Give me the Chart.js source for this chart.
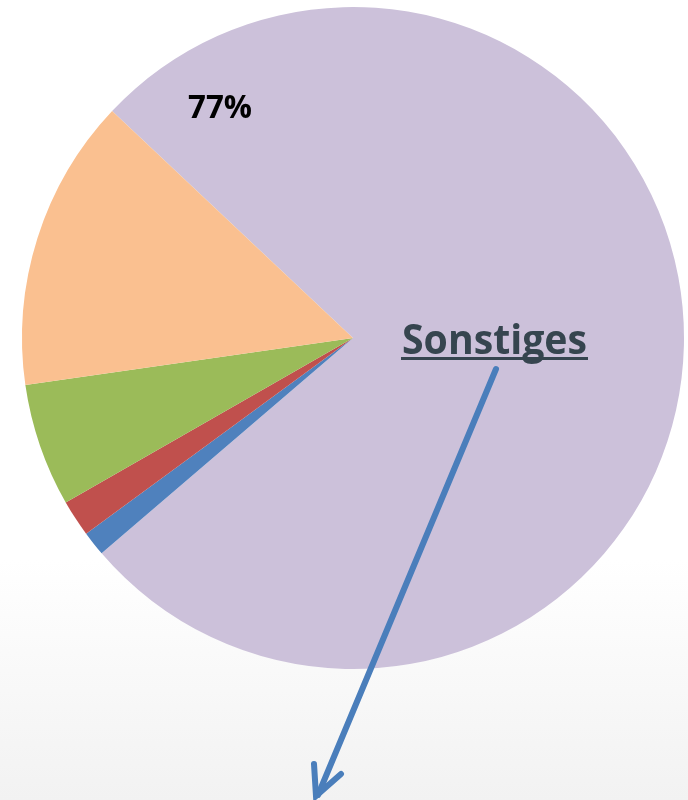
<!DOCTYPE html>
<html>
<head>
<meta charset="utf-8">
<script src="https://cdn.jsdelivr.net/npm/chart.js@4"></script>
<style>
html,body{margin:0;padding:0;}
body{width:688px;height:800px;background:linear-gradient(to bottom,#ffffff 0px,#ffffff 560px,#f2f2f2 800px);}
#wrap{position:absolute;left:0;top:0;width:688px;height:800px;}
</style>
</head>
<body>
<div id="wrap"><canvas id="c" width="688" height="800"></canvas></div>
<script>
const categories = ["Sonstiges", "Kategorie B", "Kategorie C", "Kategorie D", "Kategorie E"];
const values = [76.7, 1.2, 1.8, 6.0, 14.3];
const colors = ["#ccc1da", "#4f81bd", "#c0504d", "#9bbb59", "#fac090"];
const mainLabel = "77%";
const calloutLabel = "Sonstiges";

// draw text fitted to a target width and cap height, left edge x, baseline y
function drawFitted(ctx, text, family, left, baseline, targetW, targetH, refChar) {
  ctx.font = 'bold 40px ' + family;
  const w = ctx.measureText(text).width;
  const size = 40 * targetW / w;
  ctx.font = 'bold ' + size.toFixed(2) + 'px ' + family;
  const asc = ctx.measureText(refChar).actualBoundingBoxAscent;
  const sy = targetH / asc;
  ctx.save();
  ctx.translate(left, baseline);
  ctx.scale(1, sy);
  ctx.textAlign = 'left';
  ctx.textBaseline = 'alphabetic';
  ctx.fillText(text, 0, 0);
  ctx.restore();
}

const annot = {
  id: 'annot',
  afterDraw(chart) {
    const ctx = chart.ctx;
    ctx.save();
    ctx.fillStyle = '#000000';
    drawFitted(ctx, mainLabel, '"Open Sans"', 188, 118, 64, 23, '7');
    ctx.fillStyle = '#36454f';
    drawFitted(ctx, calloutLabel, '"Open Sans"', 402, 354, 185, 30, 'S');
    ctx.fillRect(401, 357, 187, 3);
    // arrow
    ctx.strokeStyle = '#4a7ebb';
    ctx.lineWidth = 6;
    ctx.lineCap = 'round';
    ctx.lineJoin = 'miter';
    ctx.beginPath();
    ctx.moveTo(496, 369);
    ctx.lineTo(318, 795);
    ctx.stroke();
    ctx.beginPath();
    ctx.moveTo(314, 764);
    ctx.lineTo(316, 796);
    ctx.lineTo(341, 774);
    ctx.stroke();
    ctx.restore();
  }
};

new Chart(document.getElementById('c'), {
  type: 'pie',
  data: {
    labels: categories,
    datasets: [{
      data: values,
      backgroundColor: colors,
      borderWidth: 0
    }]
  },
  options: {
    responsive: false,
    animation: false,
    rotation: -46.7,
    layout: { padding: { left: 22, right: 4, top: 7, bottom: 131 } },
    plugins: { legend: { display: false }, tooltip: { enabled: false } }
  },
  plugins: [annot]
});
</script>
</body>
</html>
